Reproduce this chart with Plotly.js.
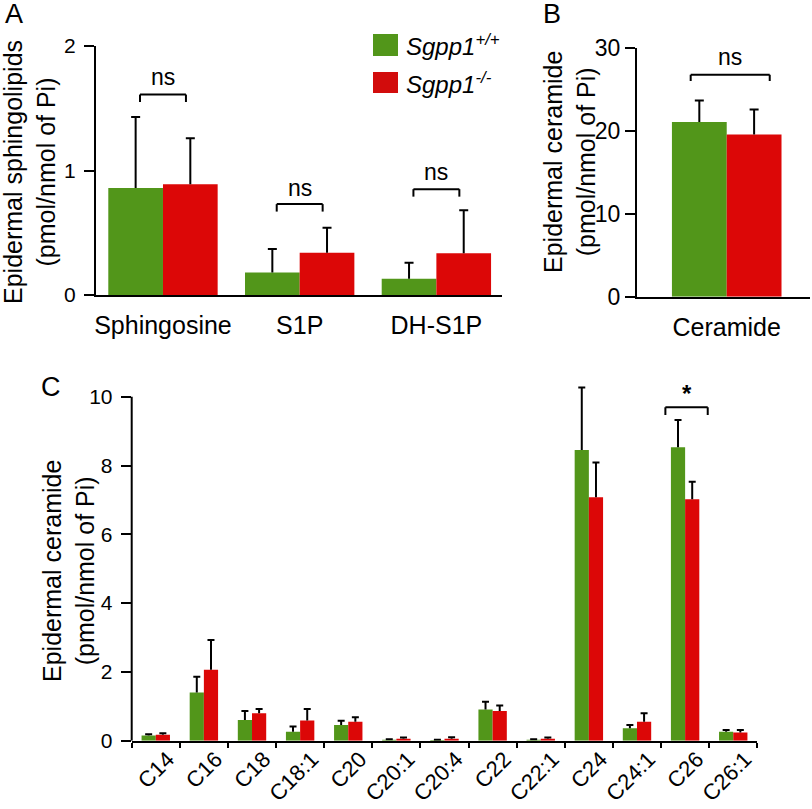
<!DOCTYPE html>
<html>
<head>
<meta charset="utf-8">
<script src="https://cdn.plot.ly/plotly-3.0.1.min.js"></script>
<style>html,body{margin:0;padding:0;background:#fff;}#chart{width:812px;height:809px;}</style>
</head>
<body>
<div id="chart"></div>
<script>
// ---------- data ----------
const seriesNames = ['Sgpp1+/+', 'Sgpp1-/-'];

const categoriesA = ['Sphingosine', 'S1P', 'DH-S1P'];
const wtA    = [0.86, 0.18, 0.13];
const wtAErr = [0.57, 0.19, 0.13];
const koA    = [0.89, 0.34, 0.335];
const koAErr = [0.37, 0.20, 0.345];

const categoriesB = ['Ceramide'];
const wtB    = [21.1];
const wtBErr = [2.6];
const koB    = [19.6];
const koBErr = [3.0];

const categoriesC = ['C14', 'C16', 'C18', 'C18:1', 'C20', 'C20:1', 'C20:4', 'C22', 'C22:1', 'C24', 'C24:1', 'C26', 'C26:1'];
const wtC    = [0.15, 1.40, 0.60, 0.26, 0.46, 0.03, 0.02, 0.91, 0.03, 8.45, 0.36, 8.53, 0.26];
const wtCErr = [0.04, 0.46, 0.26, 0.15, 0.12, 0.01, 0.01, 0.22, 0.01, 1.82, 0.10, 0.79, 0.05];
const koC    = [0.17, 2.06, 0.80, 0.59, 0.55, 0.06, 0.06, 0.86, 0.06, 7.08, 0.55, 7.02, 0.24];
const koCErr = [0.05, 0.87, 0.12, 0.33, 0.13, 0.03, 0.04, 0.16, 0.03, 1.01, 0.25, 0.51, 0.07];

const tickValsA = [0, 1, 2];
const tickValsB = [0, 10, 20, 30];
const tickValsC = [0, 2, 4, 6, 8, 10];

// ---------- styles ----------
const GREEN = '#52961a';
const RED = '#dc0707';
const FONT = 'Liberation Sans, Arial, Helvetica, sans-serif';

function barTrace(cats, vals, errs, name, color, xa, ya, w, off) {
  return {
    type: 'bar', x: cats, y: vals, name: name, xaxis: xa, yaxis: ya,
    width: w, offset: off, cliponaxis: false, showlegend: false,
    marker: {color: color, line: {width: 0}},
    error_y: {type: 'data', symmetric: false, array: errs, arrayminus: errs.map(() => 0),
              color: '#000', thickness: 2, width: w > 0.35 ? 4.5 : 3.5, visible: true},
    hoverinfo: 'skip'
  };
}

const data = [
  barTrace(categoriesA, wtA, wtAErr, seriesNames[0], GREEN, 'x', 'y', 0.4, -0.4),
  barTrace(categoriesA, koA, koAErr, seriesNames[1], RED, 'x', 'y', 0.4, 0),
  barTrace(categoriesB, wtB, wtBErr, seriesNames[0], GREEN, 'x2', 'y2', 0.4, -0.4),
  barTrace(categoriesB, koB, koBErr, seriesNames[1], RED, 'x2', 'y2', 0.4, 0),
  barTrace(categoriesC, wtC, wtCErr, seriesNames[0], GREEN, 'x3', 'y3', 0.295, -0.295),
  barTrace(categoriesC, koC, koCErr, seriesNames[1], RED, 'x3', 'y3', 0.295, 0)
];

const W = 812, H = 809;
const px = v => v / W;
const py = v => 1 - v / H;

function xAxisBase(extra) {
  return Object.assign({
    type: 'category', showline: true, linewidth: 2, linecolor: '#000',
    showgrid: false, zeroline: false, fixedrange: true,
    tickfont: {size: 25, color: '#000', family: FONT}
  }, extra);
}
function yAxisBase(extra) {
  return Object.assign({
    showline: true, linewidth: 2, linecolor: '#000', showgrid: false, zeroline: false,
    ticks: 'outside', ticklen: 10, tickwidth: 2, tickcolor: '#000', fixedrange: true,
    tickfont: {size: 21, color: '#000', family: FONT}, ticklabelstandoff: 4
  }, extra);
}

// brackets: [xref, yref, x0, x1, yTop, yTip]
const brackets = [
  ['x', 'y', -0.168, 0.168, 1.61, 1.55],
  ['x', 'y', 0.832, 1.168, 0.73, 0.67],
  ['x', 'y', 1.832, 2.168, 0.85, 0.79],
  ['x2', 'y2', -0.263, 0.314, 26.8, 26.05],
  ['x3', 'y3', 10.59, 11.47, 9.69, 9.47]
];
const shapes = [];
brackets.forEach(b => {
  const line = {color: '#000', width: 2};
  shapes.push({type: 'line', xref: b[0], yref: b[1], x0: b[2], x1: b[3], y0: b[4], y1: b[4], line: line});
  shapes.push({type: 'line', xref: b[0], yref: b[1], x0: b[2], x1: b[2], y0: b[4], y1: b[5], line: line});
  shapes.push({type: 'line', xref: b[0], yref: b[1], x0: b[3], x1: b[3], y0: b[4], y1: b[5], line: line});
});
// y axis line of panel C (ends at 10, the axis range leaves headroom for the C24 error bar)
shapes.push({type: 'line', xref: 'x3 domain', yref: 'y3', x0: 0, x1: 0, y0: 0, y1: 10, line: {color: '#000', width: 2}});
// legend squares
shapes.push({type: 'rect', xref: 'paper', yref: 'paper', x0: px(373), x1: px(398), y0: py(56), y1: py(34), fillcolor: GREEN, line: {width: 0}});
shapes.push({type: 'rect', xref: 'paper', yref: 'paper', x0: px(373), x1: px(398), y0: py(93), y1: py(72), fillcolor: '#d20c0c', line: {width: 0}});

const sig = [
  ['x', 'y', 0, 1.75, 'ns', 23],
  ['x', 'y', 1, 0.86, 'ns', 23],
  ['x', 'y', 2, 0.99, 'ns', 23],
  ['x2', 'y2', 0.025, 29.0, 'ns', 23],
  ['x3', 'y3', 11.03, 10.1, '<b>*</b>', 24]
];
const annotations = sig.map(s => ({
  xref: s[0], yref: s[1], x: s[2], y: s[3], text: s[4], showarrow: false,
  xanchor: 'center', yanchor: 'middle', font: {size: s[5], color: '#000', family: FONT}
}));

function paperText(x, y, text, size, extra) {
  return Object.assign({xref: 'paper', yref: 'paper', x: px(x), y: py(y), text: text, showarrow: false,
    font: {size: size, color: '#000', family: FONT}}, extra);
}
annotations.push(paperText(404, 45, '<i>Sgpp1<sup>+/+</sup></i>', 24, {xanchor: 'left', yanchor: 'middle'}));
annotations.push(paperText(404, 83, '<i>Sgpp1<sup>-/-</sup></i>', 24, {xanchor: 'left', yanchor: 'middle'}));
annotations.push(paperText(3, 14, 'A', 27, {xanchor: 'left', yanchor: 'middle'}));
annotations.push(paperText(541, 14, 'B', 27, {xanchor: 'left', yanchor: 'middle'}));
annotations.push(paperText(39, 387, 'C', 27, {xanchor: 'left', yanchor: 'middle'}));
// y-axis titles
annotations.push(paperText(29, 172, 'Epidermal sphingolipids<br>(pmol/nmol of Pi)', 25, {xanchor: 'center', yanchor: 'middle', textangle: -90}));
annotations.push(paperText(569, 162, 'Epidermal ceramide<br>(pmol/nmol of Pi)', 25, {xanchor: 'center', yanchor: 'middle', textangle: -90}));
annotations.push(paperText(68, 571, 'Epidermal ceramide<br>(pmol/nmol of Pi)', 25, {xanchor: 'center', yanchor: 'middle', textangle: -90}));

const pxPerUnitC = 34.4;
const layout = {
  width: W, height: H,
  margin: {l: 0, r: 0, t: 0, b: 0, pad: 0},
  paper_bgcolor: '#fff', plot_bgcolor: 'rgba(0,0,0,0)',
  font: {family: FONT, color: '#000', size: 19},
  showlegend: false,
  barmode: 'group',
  xaxis: xAxisBase({domain: [px(96), px(502)], anchor: 'y', range: [-0.49, 2.48],
    ticks: 'outside', ticklen: 1, tickcolor: 'rgba(0,0,0,0)', ticklabelstandoff: 6}),
  yaxis: yAxisBase({domain: [py(295), py(46)], anchor: 'x', range: [0, 2], tickvals: tickValsA}),
  xaxis2: xAxisBase({domain: [px(637), px(810)], anchor: 'y2', range: [-0.655, 0.608],
    ticks: 'outside', ticklen: 1, tickcolor: 'rgba(0,0,0,0)', ticklabelstandoff: 6}),
  yaxis2: yAxisBase({domain: [py(296.7), py(48.3)], anchor: 'x2', range: [0, 30], tickvals: tickValsB,
    tickfont: {size: 23, color: '#000', family: FONT}, ticklabelstandoff: 0}),
  xaxis3: xAxisBase({domain: [px(131.7), px(757.3)], anchor: 'y3', range: [-0.5, 12.5],
    ticks: 'outside', tickson: 'boundaries', ticklen: 5, tickwidth: 2, tickcolor: '#000',
    tickangle: -45, tickfont: {size: 22, color: '#000', family: FONT},
    ticklabelstandoff: -5, ticklabelshift: 12}),
  yaxis3: yAxisBase({domain: [py(740.7), py(740.7 - 10.35 * pxPerUnitC)], anchor: 'x3', range: [0, 10.35],
    tickvals: tickValsC, showline: false}),
  shapes: shapes,
  annotations: annotations
};

Plotly.newPlot('chart', data, layout, {staticPlot: true, displayModeBar: false}).then(() => {
  // draw only the upper whisker (no cap at the bar top)
  document.querySelectorAll('path.yerror').forEach(p => {
    const d = p.getAttribute('d');
    if (d) p.setAttribute('d', d.replace(/m-[^,]+,0h[^A-Za-z]+$/, ''));
  });
});
</script>
</body>
</html>
